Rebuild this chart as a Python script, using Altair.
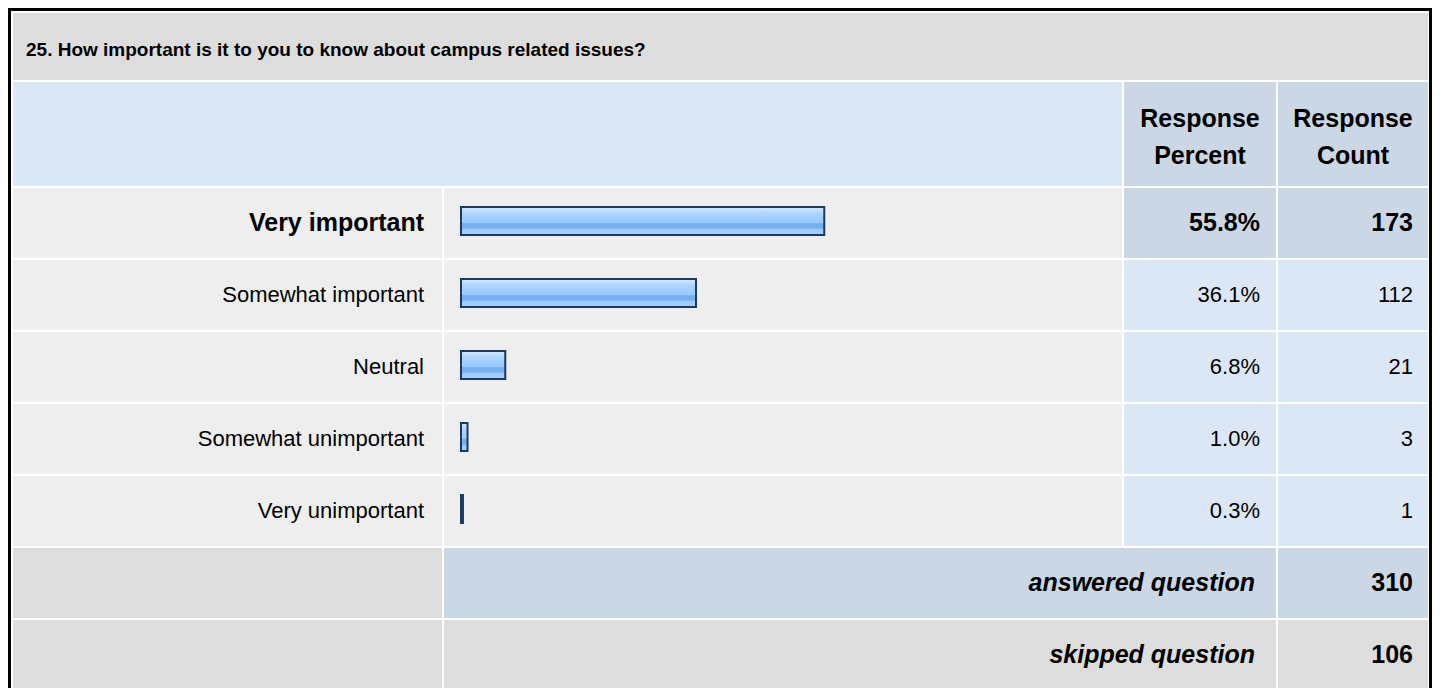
import altair as alt
import pandas as pd

# ---------------- data ----------------
title = "25. How important is it to you to know about campus related issues?"
categories = ["Very important", "Somewhat important", "Neutral",
              "Somewhat unimportant", "Very unimportant"]
percents = [55.8, 36.1, 6.8, 1.0, 0.3]
counts = [173, 112, 21, 3, 1]
header_percent = ["Response", "Percent"]
header_count = ["Response", "Count"]
summary_labels = ["answered question", "skipped question"]
summary_counts = [310, 106]

df = pd.DataFrame({"category": categories, "percent": percents, "count": counts})
df["pct_label"] = [f"{p:.1f}%" for p in percents]
df["count_label"] = [str(c) for c in counts]
df["top"] = df["percent"] == df["percent"].max()

# ---------------- style / layout ----------------
W, H = 1424, 680
FONT = "Liberation Sans"
TITLE_BG = "#DDDDDD"
HEAD_LIGHT = "#DCE7F5"
HEAD_DARK = "#CBD7E5"
ROW_BG = "#EEEEEE"
BAR_STROKE = "#1C3961"

# column edges
C_LAB = (5, 434)
C_BAR = (436, 1114)
C_PCT = (1116, 1268)
C_CNT = (1270, 1420)
# fixed rows
R_TITLE = (5, 72)
R_HEAD = (74, 178)
R_ANS = (540, 610)
R_SKIP = (612, H + 12)

one = pd.DataFrame({"k": [0]})


def cell(x, y, fill):
    return alt.Chart(one).mark_rect(fill=fill).encode(
        x=alt.value(x[0]), x2=alt.value(x[1]),
        y=alt.value(y[0]), y2=alt.value(y[1]))


def label(text, x, y, align="right", size=21, weight="normal", style="normal",
          baseline="middle"):
    kw = dict(align=align, baseline=baseline, font=FONT, fontSize=size,
              fontWeight=weight, fontStyle=style, color="#000000")
    return alt.Chart(pd.DataFrame({"t": [text]})).mark_text(**kw).encode(
        x=alt.value(x), y=alt.value(y), text="t:N")


yscale = alt.Scale(domain=categories, range=[180, 538],
                   paddingInner=2 / 72, paddingOuter=0)
Y = alt.Y("category:N", scale=yscale, axis=None)

base = alt.Chart(df)

layers = []
# title + header rows
layers.append(cell((C_LAB[0], C_CNT[1]), R_TITLE, TITLE_BG))
layers.append(cell((C_LAB[0], C_BAR[1]), R_HEAD, HEAD_LIGHT))
layers.append(cell(C_PCT, R_HEAD, HEAD_DARK))
layers.append(cell(C_CNT, R_HEAD, HEAD_DARK))

# data rows
layers.append(base.mark_rect(fill=ROW_BG).encode(
    y=Y, x=alt.value(C_LAB[0]), x2=alt.value(C_LAB[1])))
layers.append(base.mark_rect(fill=ROW_BG).encode(
    y=Y, x=alt.value(C_BAR[0]), x2=alt.value(C_BAR[1])))
for col in (C_PCT, C_CNT):
    layers.append(base.mark_rect().encode(
        y=Y, x=alt.value(col[0]), x2=alt.value(col[1]),
        fill=alt.condition("datum.top", alt.value(HEAD_DARK), alt.value(HEAD_LIGHT))))

# summary rows
layers.append(cell(C_LAB, R_ANS, TITLE_BG))
layers.append(cell((C_BAR[0], C_PCT[1]), R_ANS, HEAD_DARK))
layers.append(cell(C_CNT, R_ANS, HEAD_DARK))
layers.append(cell(C_LAB, R_SKIP, TITLE_BG))
layers.append(cell((C_BAR[0], C_PCT[1]), R_SKIP, TITLE_BG))
layers.append(cell(C_CNT, R_SKIP, TITLE_BG))

# bars
gradient = alt.LinearGradient(
    gradient="linear", x1=0, y1=0, x2=0, y2=1,
    stops=[
        alt.GradientStop(offset=0.0, color="#D2E9FF"),
        alt.GradientStop(offset=0.25, color="#AAD3FF"),
        alt.GradientStop(offset=0.55, color="#9CCAFE"),
        alt.GradientStop(offset=0.6, color="#76AEF0"),
        alt.GradientStop(offset=0.75, color="#76AEF0"),
        alt.GradientStop(offset=0.8, color="#9CCAFE"),
        alt.GradientStop(offset=1.0, color="#A8D1FF"),
    ])
layers.append(base.mark_bar(size=28, yOffset=-2, color=gradient,
                            stroke=BAR_STROKE, strokeWidth=2).encode(
    y=Y,
    x=alt.X("percent:Q", scale=alt.Scale(domain=[0, 100], range=[453, 1104]), axis=None)))

# row texts
TXT = dict(font=FONT, baseline="middle", color="#000000")
for is_top, size, weight in ((True, 25, "bold"), (False, 22, "normal")):
    sub = base.transform_filter(f"datum.top == {str(is_top).lower()}")
    layers.append(sub.mark_text(align="right", fontSize=size, fontWeight=weight, **TXT).encode(
        y=Y, x=alt.value(416), text="category:N"))
    layers.append(sub.mark_text(align="right", fontSize=size, fontWeight=weight, **TXT).encode(
        y=Y, x=alt.value(1252), text="pct_label:N"))
    layers.append(sub.mark_text(align="right", fontSize=size, fontWeight=weight, **TXT).encode(
        y=Y, x=alt.value(1405), text="count_label:N"))

# title & header texts
layers.append(label(title, 18, 48, align="left", size=19, weight="bold", baseline="alphabetic"))
hp = (C_PCT[0] + C_PCT[1]) / 2
hc = (C_CNT[0] + C_CNT[1]) / 2
for x, txt in ((hp, header_percent), (hc, header_count)):
    layers.append(alt.Chart(one).mark_text(
        text=txt, align="center", baseline="alphabetic", font=FONT, fontSize=25,
        fontWeight="bold", lineHeight=37, color="#000000").encode(
        x=alt.value(x), y=alt.value(119)))

# summary texts
for i, (lab, cnt) in enumerate(zip(summary_labels, summary_counts)):
    r = (R_ANS, R_SKIP)[i]
    yc = (r[0] + min(r[1], r[0] + 70)) / 2
    layers.append(label(lab, 1247, yc, size=25, weight="bold", style="italic"))
    layers.append(label(str(cnt), 1405, yc, size=25, weight="bold"))

# outer border
layers.append(alt.Chart(one).mark_rect(fill="#FFFFFF", fillOpacity=0, stroke="#000000",
                                       strokeWidth=3).encode(
    x=alt.value(1.5), x2=alt.value(W - 1.5), y=alt.value(1.5), y2=alt.value(H + 20)))

chart = alt.layer(*layers).properties(
    width=W, height=H, padding=0,
    autosize=alt.AutoSizeParams(type="none"),
).configure_view(stroke=None)

chart.save("out.html", embed_options={"renderer": "svg", "actions": False})
